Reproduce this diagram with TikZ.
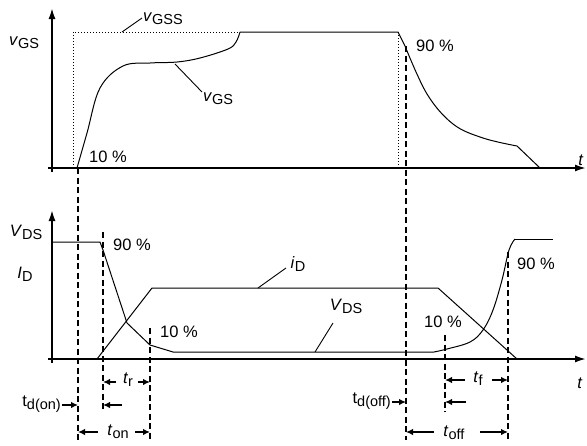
\documentclass[tikz,border=0pt]{standalone}
\usepackage{fontspec}
\setmainfont{Liberation Sans}
\usetikzlibrary{arrows.meta}
\newcommand{\sub}[1]{\raisebox{-0.35ex}{\fontsize{14.5}{15}\selectfont #1}}
\begin{document}
\begin{tikzpicture}[x=1pt,y=-1pt,
  axisline/.style={line width=1.8pt,-{Latex[length=11pt,width=7pt]}},
  curve/.style={line width=1pt},
  dashline/.style={line width=1.3pt,dash pattern=on 6pt off 3.5pt},
  dotline/.style={line width=1pt,dotted},
  lead/.style={line width=0.9pt},
  darr/.style={line width=1.4pt,-{Latex[length=7pt,width=6.5pt]}},
  lab/.style={inner sep=0pt,font=\fontsize{16.5}{18}\selectfont}]
\useasboundingbox (0,0) rectangle (587,445);
% ---------- upper plot ----------
\draw[axisline] (52,172) -- (52,8);
\draw[axisline] (48,168) -- (586,168);
\draw[dotline] (73,168) -- (73,32) -- (240,32);
\draw[dotline] (398,32) -- (398,168);
\draw[curve] plot[smooth,tension=0.6] coordinates {(77,168) (87,133) (100,88) (123,66) (150,63) (177,62) (200,58) (228,49) (236,42) (240,32)};
\draw[curve] (240,32) -- (398,32) -- (405,46);
\draw[curve] plot[smooth,tension=0.6] coordinates {(405,46) (427,94) (453,124) (483,138) (517,146)};
\draw[curve] (517,146) -- (540,168);
\node[lab] (vgsax) at (24,43) {\textit{v}\sub{GS}};
\node[lab] (vgss) at (163,19) {\textit{v}\sub{GSS}};
\draw[lead] (122,32) -- (142,18);
\node[lab] (vgs) at (218,99) {\textit{v}\sub{GS}};
\draw[lead] (175,64) -- (202,92);
\node[lab] (p10a) at (108,157) {10 \%};
\node[lab] (p90a) at (435,46) {90 \%};
\node[lab] (ta) at (581,160) {\textit{t}};
% ---------- lower plot ----------
\draw[axisline] (52,363) -- (52,210);
\draw[axisline] (48,359) -- (586,359);
\draw[curve] (52,242) -- (100,242) -- (103,250) -- (127,323) -- (150,345) -- (173,352) -- (434,352);
\draw[curve] plot[smooth,tension=0.6] coordinates {(434,352) (447,349) (470,342) (483,330) (493,310) (502,280) (509,250) (515,239)};
\draw[curve] (515,239) -- (553,239);
\draw[curve] (97,359) -- (152,288) -- (438,288) -- (517,359);
\node[lab] (vdsax) at (26,232) {\textit{V}\sub{DS}};
\node[lab] (idax) at (25,274) {\textit{I}\sub{D}};
\node[lab] (p90b) at (132,245) {90 \%};
\node[lab] (p10b) at (179,332) {10 \%};
\node[lab] (idl) at (298,264) {\textit{i}\sub{D}};
\draw[lead] (258,288) -- (286,268);
\node[lab] (vdsl) at (346,306) {\textit{V}\sub{DS}};
\draw[lead] (315,352) -- (333,323);
\node[lab] (p10c) at (443,322) {10 \%};
\node[lab] (p90c) at (536,264) {90 \%};
\node[lab] (tb) at (580,383) {\textit{t}};
% ---------- dashed markers ----------
\coordinate (d1t) at (78,168);  \coordinate (d1b) at (78,440);
\coordinate (d2t) at (103,232); \coordinate (d2b) at (103,412);
\coordinate (d3t) at (150,328); \coordinate (d3b) at (150,440);
\coordinate (d4t) at (406,46);  \coordinate (d4b) at (406,440);
\coordinate (d5t) at (445,335); \coordinate (d5b) at (445,412);
\coordinate (d6t) at (508,252); \coordinate (d6b) at (508,440);
\foreach \a/\b in {d1t/d1b,d2t/d2b,d3t/d3b,d4t/d4b,d5t/d5b,d6t/d6b}
  \draw[dashline] (\a) -- (\b);
% ---------- time annotations ----------
% t_r
\draw[darr] (116,382) -- (103,382);
\node[lab] (tr) at (128,380) {\textit{t}\sub{r}};
\draw[darr] (138,382) -- (150,382);
% t_d(on)
\node[lab,anchor=east] (tdon) at (61,404) {t\sub{d(on)}};
\draw[darr] (62,405) -- (78,405);
\draw[darr] (122,405) -- (103,405);
% t_on
\draw[darr] (98,432) -- (78,432);
\node[lab] (ton) at (118,432) {\textit{t}\sub{on}};
\draw[darr] (135,432) -- (150,432);
% t_f
\draw[darr] (465,380) -- (445,380);
\node[lab] (tf) at (478,379) {\textit{t}\sub{f}};
\draw[darr] (492,380) -- (508,380);
% t_d(off)
\node[lab,anchor=east] (tdoff) at (391,401) {t\sub{d(off)}};
\draw[darr] (392,402) -- (406,402);
\draw[darr] (466,402) -- (445,402);
% t_off
\draw[darr] (434,432) -- (406,432);
\node[lab] (toff) at (454,433) {\textit{t}\sub{off}};
\draw[darr] (480,432) -- (508,432);
\end{tikzpicture}
\end{document}
